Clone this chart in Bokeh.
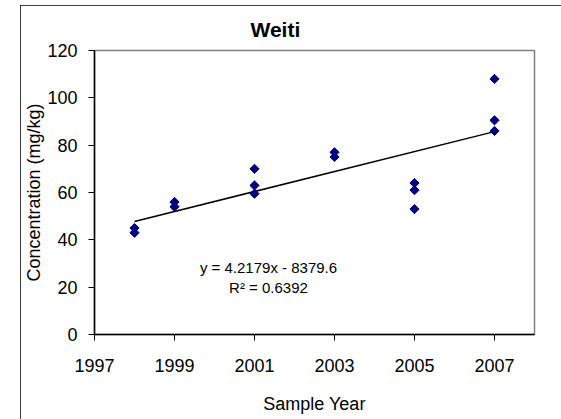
import math
from bokeh.plotting import figure
from bokeh.models import FixedTicker, Label, ColumnDataSource
from bokeh.embed import file_html
from bokeh.resources import INLINE

# ---- data ----
years = [1998, 1998, 1999, 1999, 2001, 2001, 2001, 2003, 2003,
         2005, 2005, 2005, 2007, 2007, 2007]
conc = [45, 43, 56, 54, 70, 63, 59.5, 77, 75,
        64, 61, 53, 108, 90.5, 86]
x_ticks = [1997, 1999, 2001, 2003, 2005, 2007]
y_ticks = [0, 20, 40, 60, 80, 100, 120]
slope = 4.2179
intercept = -8379.6
r2 = 0.6392
title_text = "Weiti"
x_label = "Sample Year"
y_label = "Concentration (mg/kg)"

FONT = "Liberation Sans"

p = figure(width=544, height=416, output_backend="svg", toolbar_location=None,
           x_range=(1997, 2008), y_range=(0, 120),
           min_border_left=74, min_border_right=30, min_border_top=45,
           min_border_bottom=87)
p.styles = {"outline": "1px solid black", "outline-offset": "-1px",
            "margin-left": "20px", "margin-top": "5px"}

p.title.text = title_text
p.title.text_font = FONT
p.title.text_font_size = "21px"
p.title.text_font_style = "bold"
p.title.text_color = "black"
p.title.align = "left"
p.title.offset = 156
p.title.standoff = 20

p.xgrid.visible = False
p.ygrid.visible = False
p.outline_line_color = "#808080"
p.outline_line_width = 1.5
p.background_fill_color = "white"
p.border_fill_color = "white"

for ax in (p.xaxis[0], p.yaxis[0]):
    ax.axis_line_color = "black"
    ax.axis_line_width = 1.5
    ax.major_tick_line_color = "black"
    ax.major_tick_out = 6
    ax.major_tick_in = 0
    ax.minor_tick_line_color = None
    ax.major_label_text_font = FONT
    ax.major_label_text_font_size = "18px"
    ax.major_label_text_color = "black"
    ax.axis_label_text_font = FONT
    ax.axis_label_text_font_size = "18px"
    ax.axis_label_text_font_style = "normal"
    ax.axis_label_text_color = "black"

p.xaxis[0].ticker = FixedTicker(ticks=x_ticks)
p.yaxis[0].ticker = FixedTicker(ticks=y_ticks)
p.xaxis[0].axis_label = x_label
p.yaxis[0].axis_label = y_label
p.xaxis[0].major_label_standoff = 18
p.xaxis[0].axis_label_standoff = 19
p.yaxis[0].major_label_standoff = 11
p.yaxis[0].axis_label_standoff = 0

# trend line
x0, x1 = min(years), max(years)
p.line([x0, x1], [slope * x0 + intercept, slope * x1 + intercept],
       line_color="black", line_width=1.5)

src = ColumnDataSource(dict(x=years, y=conc))
p.scatter("x", "y", source=src, marker="square", angle=math.pi / 4, size=6.5,
          fill_color="#000080", line_color="#000080")

p.add_layout(Label(x=2001.35, y=28.5, text=f"y = {slope}x - {abs(intercept)}",
                   text_font=FONT, text_font_size="15px", text_align="center",
                   text_baseline="middle", text_color="black"))
p.add_layout(Label(x=2001.35, y=20, text=f"R\u00b2 = {r2}",
                   text_font=FONT, text_font_size="15px", text_align="center",
                   text_baseline="middle", text_color="black"))

open("out.html", "w").write(file_html(p, INLINE))
